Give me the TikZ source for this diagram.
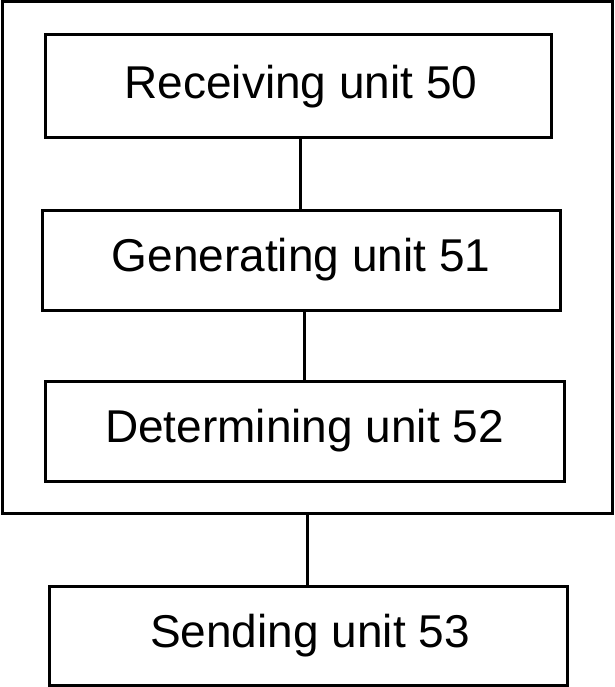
\documentclass[tikz,border=0pt]{standalone}
\usepackage{fontspec}
\setmainfont{Liberation Sans}
\begin{document}
\begin{tikzpicture}[x=1pt,y=-1pt,
  unitbox/.style={draw=black,line width=3pt,inner sep=0pt},
  unittext/.style={inner sep=0pt,font=\fontsize{46}{50}\selectfont},
  conn/.style={draw=black,line width=3pt}]
\useasboundingbox (0,0) rectangle (614,687);
\node[unitbox,minimum width=610pt,minimum height=511pt] (outer) at (307,257.5) {};
\node[unitbox,minimum width=506pt,minimum height=103pt] (b1) at (298,86.5) {};
\node[unitbox,minimum width=518pt,minimum height=100pt] (b2) at (301,260) {};
\node[unitbox,minimum width=519pt,minimum height=100pt] (b3) at (304.5,431) {};
\node[unitbox,minimum width=518pt,minimum height=99pt] (b4) at (308,635.5) {};
\node[unittext] (t1) at ([xshift=3pt]b1.center) {Receiving unit 50};
\node[unittext] (t2) at (b2.center) {Generating unit 51};
\node[unittext] (t3) at (b3.center) {Determining unit 52};
\node[unittext] (t4) at ([xshift=2pt]b4.center) {Sending unit 53};
\draw[conn] ([xshift=2.5pt]b1.south) -- ([xshift=-0.5pt]b2.north);
\draw[conn] ([xshift=3pt]b2.south) -- ([xshift=-0.5pt]b3.north);
\draw[conn] (outer.south) -- ([xshift=-1pt]b4.north);
\end{tikzpicture}
\end{document}
